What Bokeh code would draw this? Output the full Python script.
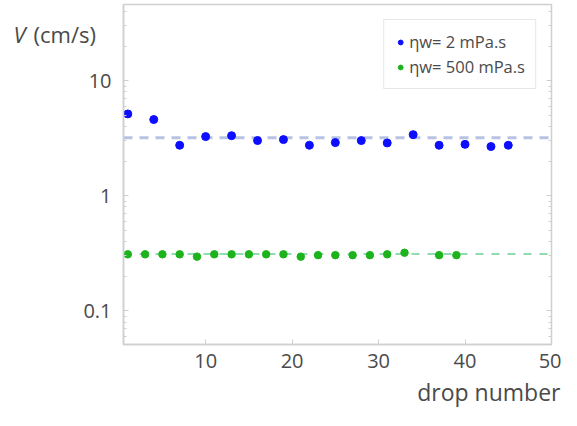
from bokeh.plotting import figure
from bokeh.models import Range1d, Label, Legend, LegendItem, LogAxis, FixedTicker, LogTicker, Title
from bokeh.embed import file_html
from bokeh.resources import INLINE

# ---- data ----
blue_x = [1, 4, 7, 10, 13, 16, 19, 22, 25, 28, 31, 34, 37, 40, 43, 45]
blue_v = [5.15, 4.6, 2.75, 3.27, 3.33, 3.02, 3.08, 2.75, 2.9, 3.02, 2.88, 3.4, 2.75, 2.8, 2.68, 2.75]
green_x = [1, 3, 5, 7, 9, 11, 13, 15, 17, 19, 21, 23, 25, 27, 29, 31, 33, 37, 39]
green_v = [0.31, 0.31, 0.31, 0.31, 0.296, 0.31, 0.31, 0.31, 0.31, 0.31, 0.296, 0.305, 0.305, 0.305, 0.305, 0.31, 0.32, 0.305, 0.305]
blue_mean = 3.2
green_mean = 0.312
x_ticks = [10, 20, 30, 40, 50]
y_tick_labels = {0.1: "0.1", 1: "1", 10: "10"}
label_blue = "\u03b7w= 2 mPa.s"
label_green = "\u03b7w= 500 mPa.s"

X0, X1 = 0.5, 50
Y0, Y1 = 0.051, 46

FONT = "Open Sans"
GRAY = "#cfcfcf"
TXT = "#4a4a4a"

p = figure(width=561, height=410, x_range=Range1d(X0, X1), y_range=Range1d(Y0, Y1),
           y_axis_type="log", output_backend="svg", toolbar_location=None,
           min_border_left=123, min_border_right=10, min_border_top=4, min_border_bottom=0)
p.outline_line_color = GRAY
p.outline_line_width = 1.5
p.grid.visible = False

for ax in [p.xaxis[0], p.yaxis[0]]:
    ax.axis_line_color = GRAY
    ax.axis_line_width = 1.5
    ax.major_tick_line_color = GRAY
    ax.minor_tick_line_color = GRAY
    ax.major_tick_in = 5
    ax.major_tick_out = 0
    ax.minor_tick_in = 3
    ax.minor_tick_out = 0
    ax.major_label_text_font = FONT
    ax.major_label_text_font_size = "20px"
    ax.major_label_text_color = TXT

p.xaxis.ticker = FixedTicker(ticks=x_ticks, minor_ticks=[])
p.xaxis.major_label_standoff = 9
p.yaxis.ticker = LogTicker(num_minor_ticks=10)
p.yaxis.major_label_overrides = y_tick_labels
p.yaxis.major_label_standoff = 12

# mirrored right axis (ticks only)
ra = LogAxis(ticker=LogTicker(num_minor_ticks=10), axis_line_color=None,
             major_tick_line_color=GRAY, minor_tick_line_color=GRAY,
             major_tick_in=5, major_tick_out=0, minor_tick_in=3, minor_tick_out=0,
             major_label_overrides={0.1: " ", 1: " ", 10: " "},
             major_label_text_font_size="6px", major_label_standoff=0)
p.add_layout(ra, "right")

# mean lines
p.line([X0, X1], [blue_mean, blue_mean], line_color="#b8c3e4", line_width=3, line_dash="9 7")
p.line([X0, X1], [green_mean, green_mean], line_color="#8edcb0", line_width=2, line_dash="8 8")

rb = p.scatter(blue_x, blue_v, size=8, color="#0d0dff", line_color="#0d0dff")
rg = p.scatter(green_x, green_v, size=7.5, color="#1db31d", line_color="#1db31d")

legend = Legend(items=[LegendItem(label=label_blue, renderers=[rb]),
                       LegendItem(label=label_green, renderers=[rg])],
                location="top_right", label_text_font=FONT, label_text_font_size="16.5px",
                label_text_color=TXT, border_line_color=GRAY, border_line_width=1.5,
                glyph_width=12, glyph_height=14, label_standoff=3, spacing=2,
                padding=10, margin=15, label_height=18)
p.add_layout(legend, "center")

# x-axis title, right aligned under the frame
p.add_layout(Title(text="drop number", align="right", text_font=FONT, text_font_size="23px",
                   text_color=TXT, text_font_style="normal", offset=-9, standoff=6), "below")

# y-axis title in the left panel (canvas coordinates)
p.add_layout(Label(x=33, y=33, x_units="canvas", y_units="canvas", text="(cm/s)",
                   text_baseline="alphabetic", text_font=FONT, text_font_size="22px",
                   text_color=TXT), "left")
p.add_layout(Label(x=13, y=33, x_units="canvas", y_units="canvas", text="V",
                   text_baseline="alphabetic", text_font=FONT, text_font_style="italic",
                   text_font_size="22px", text_color=TXT), "left")

open("out.html", "w").write(file_html(p, INLINE))
